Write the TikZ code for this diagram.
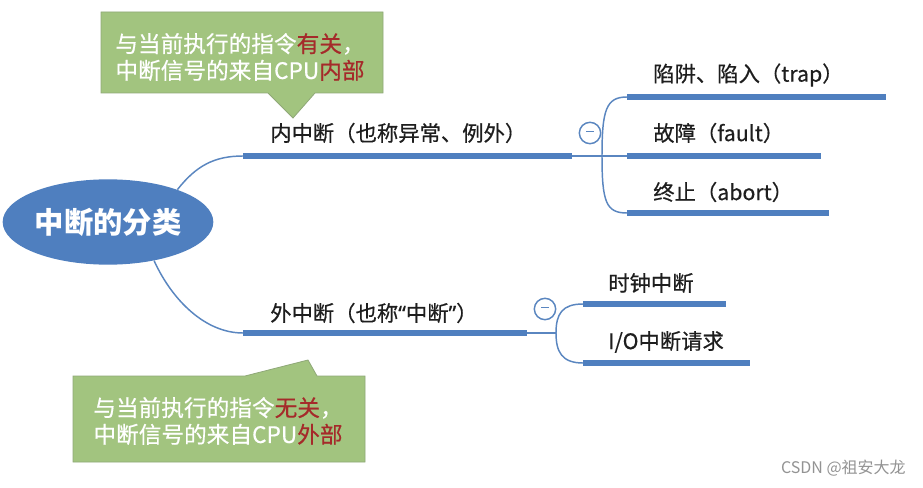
\documentclass[tikz,border=0pt]{standalone}
\usepackage{fontspec}
\setmainfont{Noto Sans CJK SC}
\newfontfamily\mapfont{Noto Sans CJK SC}[FakeBold=0.5]
\newfontfamily\quotefont{Noto Sans}[FakeBold=0.5]
\usepackage{tikz}
\usetikzlibrary{shapes,arrows.meta,positioning,calc}
\definecolor{mapblue}{HTML}{4F7FBF}
\definecolor{linkblue}{HTML}{5A86C0}
\definecolor{notegreen}{HTML}{A2C47F}
\definecolor{noteedge}{HTML}{8FA878}
\definecolor{keyred}{HTML}{A52A2A}
\definecolor{textgray}{HTML}{1E1E1E}

\begin{document}
\begin{tikzpicture}[
      x=0.75pt,y=-0.75pt,
      root/.style = {ellipse,fill=mapblue,text=white,inner sep=0pt,minimum width=158pt,minimum height=64pt,font=\fontsize{22}{26}\selectfont\bfseries},
      topic/.style = {anchor=west,inner sep=0pt,text=textgray,font=\mapfont\fontsize{16}{19}\selectfont},
      note/.style = {fill=notegreen,draw=noteedge,line width=0.6pt},
      notetext/.style = {align=center,text=white,inner sep=0pt,font=\mapfont\fontsize{17}{20}\selectfont},
      fold/.style = {circle,draw=linkblue,line width=1.1pt,fill=white,minimum size=16pt,inner sep=0pt},
      bar/.style = {draw=mapblue,line width=3.8pt},
      link/.style = {draw=linkblue,line width=1.1pt}
    ]
      \fill [white] (0,0) rectangle (923,488);
      \useasboundingbox (0,0) rectangle (923,488);
      \draw [note] (101,12) -- (383,12) -- (383,93) -- (315,93) -- (293,118) -- (268,93) -- (101,93) -- cycle;
      \draw [note] (73,376) -- (245,376) -- (308,360) -- (317,376) -- (365,376) -- (365,462) -- (73,462) -- cycle;
      \node (note1)[notetext] at (240,57) {与当前执行的指令\textcolor{keyred}{有关}，\\中断信号的来自CPU\textcolor{keyred}{内部}};
      \node (note2)[notetext] at (218,421) {与当前执行的指令\textcolor{keyred}{无关}，\\中断信号的来自CPU\textcolor{keyred}{外部}};
      \node (root)[root] at (108,222) {中断的分类};
      \node (inner)[topic] at (270,133) {内中断（也称异常、例外）};
      \node (outer)[topic] at (270,313) {外中断（也称{\quotefont “}中断{\quotefont ”}）};
      \node (trap)[topic] at (653,75) {陷阱、陷入（trap）};
      \node (fault)[topic] at (653,133) {故障（fault）};
      \node (abort)[topic] at (653,192) {终止（abort）};
      \node (clock)[topic] at (608,283) {时钟中断};
      \node (io)[topic] at (608,342) {I/O中断请求};
      \coordinate (innerL) at (243,156);
      \coordinate (innerR) at (572,156);
      \coordinate (innerS) at (602,156);
      \coordinate (outerL) at (243,333);
      \coordinate (outerR) at (527,333);
      \coordinate (outerS) at (556,333);
      \coordinate (trapL) at (627,97);
      \coordinate (trapR) at (886,97);
      \coordinate (faultL) at (627,156);
      \coordinate (faultR) at (821,156);
      \coordinate (abortL) at (627,213);
      \coordinate (abortR) at (829,213);
      \coordinate (clockL) at (583,304);
      \coordinate (clockR) at (726,304);
      \coordinate (ioL) at (583,363);
      \coordinate (ioR) at (750,363);
      \draw [link] (root.25) .. controls (196,166) and (214,156) .. (innerL);
      \draw [link] (root.-40) .. controls (172,300) and (205,333) .. (outerL);
      \draw [link] (innerR) -- (faultL);
      \draw [link] (innerS) .. controls (602,110) and (606,97) .. (trapL);
      \draw [link] (innerS) .. controls (602,202) and (606,213) .. (abortL);
      \draw [link] (outerR) -- (outerS);
      \draw [link] (outerS) .. controls (556,314) and (562,304) .. (clockL);
      \draw [link] (outerS) .. controls (556,352) and (562,363) .. (ioL);
      \draw [bar] (innerL) -- (innerR);
      \draw [bar] (outerL) -- (outerR);
      \draw [bar] (trapL) -- (trapR);
      \draw [bar] (faultL) -- (faultR);
      \draw [bar] (abortL) -- (abortR);
      \draw [bar] (clockL) -- (clockR);
      \draw [bar] (ioL) -- (ioR);
      \node (innerfold)[fold] at (590,133) {\textcolor{linkblue}{\rule[2.5pt]{6pt}{1.2pt}}};
      \node (outerfold)[fold] at (545,309) {\textcolor{linkblue}{\rule[2.5pt]{6pt}{1.2pt}}};
      \node (mark)[anchor=east,inner sep=0pt,text=gray!85,font=\fontsize{12}{14}\selectfont] at (906,468) {CSDN @祖安大龙};
    \end{tikzpicture}
\end{document}
